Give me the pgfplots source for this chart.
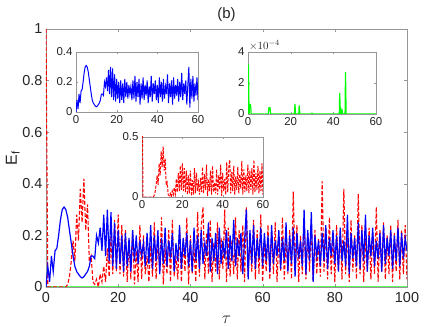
\documentclass[border=0pt]{standalone}
\usepackage{pgfplots}
\pgfplotsset{compat=1.18}
\usepackage{pgfplotstable}
\usepackage{fontspec}
\setmainfont{Liberation Sans}

\definecolor{axgray}{RGB}{150,150,150}
\definecolor{txtgray}{RGB}{38,38,38}
\definecolor{mblue}{RGB}{0,0,255}
\definecolor{mred}{RGB}{255,0,0}
\definecolor{mgreen}{RGB}{0,255,0}

% time, blue curve, red curve
\pgfplotstableread{
t b r
0 0.00 1.00
0.5 0.08 0.00
1 0.02 0.00
1.5 0.12 0.00
2 0.06 0.00
2.5 0.14 0.00
3 0.15 0.00
3.5 0.20 0.00
4 0.26 0.00
4.5 0.30 0.00
5 0.31 0.00
5.5 0.30 0.00
6 0.27 0.01
6.5 0.22 0.04
7 0.17 0.10
7.5 0.12 0.18
8 0.08 0.10
8.5 0.06 0.28
9 0.05 0.18
9.5 0.04 0.38
10 0.035 0.25
10.5 0.04 0.42
11 0.05 0.22
11.5 0.06 0.32
12 0.08 0.10
12.5 0.12 0.12
13 0.12 0.02
13.5 0.11 0.01
14 0.20 0.03
14.5 0.17 0.00
15 0.23 0.05
15.5 0.14 0.02
16 0.28 0.08
16.5 0.12 0.02
17 0.30 0.15
17.5 0.10 0.04
18 0.29 0.20
18.5 0.08 0.05
19 0.25 0.26
19.5 0.07 0.06
20 0.22 0.28
20.5 0.09 0.05
21 0.20 0.24
21.5 0.06 0.04
22 0.21 0.22
22.5 0.08 0.02
23 0.19 0.18
23.5 0.06 0.03
24 0.22 0.22
24.5 0.10 0.01
25 0.20 0.14
25.5 0.09 0.02
26 0.18 0.24
26.5 0.12 0.03
27 0.17 0.20
27.5 0.08 0.05
28 0.21 0.12
28.5 0.09 0.02
29 0.24 0.16
29.5 0.07 0.04
30 0.20 0.25
30.5 0.10 0.03
31 0.22 0.19
31.5 0.05 0.06
32 0.19 0.27
32.5 0.09 0.01
33 0.23 0.15
33.5 0.08 0.05
34 0.18 0.22
34.5 0.11 0.02
35 0.21 0.26
35.5 0.06 0.04
36 0.17 0.12
36.5 0.10 0.03
37 0.24 0.23
37.5 0.07 0.02
38 0.19 0.18
38.5 0.12 0.06
39 0.21 0.27
39.5 0.08 0.01
40 0.18 0.20
40.5 0.06 0.05
41 0.23 0.15
41.5 0.10 0.02
42 0.20 0.29
42.5 0.07 0.04
43 0.22 0.24
43.5 0.09 0.31
44 0.17 0.03
44.5 0.12 0.21
45 0.25 0.05
45.5 0.06 0.26
46 0.19 0.02
46.5 0.10 0.17
47 0.21 0.06
47.5 0.05 0.25
48 0.23 0.03
48.5 0.09 0.19
49 0.18 0.07
49.5 0.11 0.30
50 0.22 0.02
50.5 0.07 0.23
51 0.20 0.04
51.5 0.10 0.18
52 0.26 0.05
52.5 0.08 0.27
53 0.19 0.03
53.5 0.12 0.22
54 0.21 0.06
54.5 0.05 0.24
55 0.18 0.02
55.5 0.30 0.31
56 0.03 0.04
56.5 0.22 0.20
57 0.09 0.06
57.5 0.24 0.26
58 0.07 0.03
58.5 0.19 0.22
59 0.11 0.05
59.5 0.23 0.28
60 0.08 0.02
60.5 0.21 0.18
61 0.10 0.06
61.5 0.20 0.24
62 0.06 0.03
62.5 0.24 0.21
63 0.09 0.05
63.5 0.18 0.25
64 0.12 0.02
64.5 0.22 0.20
65 0.07 0.06
65.5 0.19 0.27
66 0.10 0.03
66.5 0.25 0.19
67 0.06 0.05
67.5 0.20 0.22
68 0.09 0.03
68.5 0.23 0.37
69 0.04 0.06
69.5 0.21 0.24
70 0.11 0.02
70.5 0.18 0.20
71 0.08 0.05
71.5 0.30 0.26
72 0.05 0.03
72.5 0.22 0.21
73 0.10 0.06
73.5 0.29 0.25
74 0.02 0.02
74.5 0.20 0.22
75 0.12 0.05
75.5 0.18 0.19
76 0.08 0.04
76.5 0.21 0.41
77 0.10 0.06
77.5 0.24 0.23
78 0.07 0.03
78.5 0.19 0.27
79 0.12 0.05
79.5 0.22 0.20
80 0.09 0.02
80.5 0.20 0.24
81 0.06 0.06
81.5 0.23 0.21
82 0.10 0.03
82.5 0.18 0.38
83 0.08 0.05
83.5 0.28 0.22
84 0.05 0.02
84.5 0.21 0.26
85 0.11 0.06
85.5 0.19 0.20
86 0.08 0.03
86.5 0.25 0.36
87 0.07 0.05
87.5 0.22 0.24
88 0.10 0.02
88.5 0.28 0.19
89 0.06 0.06
89.5 0.20 0.23
90 0.12 0.03
90.5 0.23 0.21
91 0.08 0.05
91.5 0.18 0.31
92 0.11 0.02
92.5 0.21 0.22
93 0.06 0.06
93.5 0.24 0.25
94 0.09 0.03
94.5 0.19 0.20
95 0.12 0.05
95.5 0.22 0.24
96 0.07 0.02
96.5 0.20 0.21
97 0.10 0.06
97.5 0.23 0.26
98 0.08 0.03
98.5 0.21 0.22
99 0.11 0.05
99.5 0.19 0.24
100 0.14 0.03
}\dyn

% green curve (tiny values)
\pgfplotstableread{
t g
0 0
0.2 3.2e-4
0.5 0
0.8 0.6e-4
1.2 0.6e-4
1.5 0
9.5 0
9.8 0.4e-4
10.3 0.4e-4
10.6 0
21.8 0
22 0.65e-4
22.3 0
23.8 0
24 0.55e-4
24.3 0
29.8 0
30 0.05e-4
30.3 0
42.8 0
43 1.35e-4
43.3 0
43.8 0
44 0.35e-4
44.3 0
45.5 0
45.7 2.7e-4
46 0
100 0
}\ent

\pgfplotsset{
  matlab/.style={
    scale only axis,
    axis line style={axgray},
    tick style={axgray},
    tick align=inside,
    ticklabel style={text=txtgray},
    /pgf/number format/assume math mode=true,
    axis background/.style={fill=white},
  },
  inset/.style={
    matlab,
    major tick length=2bp,
    ticklabel style={font=\fontsize{11.5}{12}\selectfont},
    xmin=0, xmax=60, xtick={0,20,40,60},
  },
}

\begin{document}
\begin{tikzpicture}
\useasboundingbox (-46bp,-40bp) rectangle (390bp,287bp);
\begin{axis}[
  matlab,
  at={(0,0)}, anchor=south west,
  width=361bp, height=258bp,
  xmin=0, xmax=100, ymin=0, ymax=1,
  xtick={0,20,40,60,80,100},
  ytick={0,0.2,0.4,0.6,0.8,1},
  major tick length=3bp,
  ticklabel style={font=\fontsize{14.5}{16}\selectfont},
  xticklabel style={yshift=-2bp},
  xlabel={$\tau$}, ylabel={E\textsubscript{f}},
  label style={font=\fontsize{16}{18}\selectfont, text=txtgray},
  xlabel style={yshift=-6bp},
  ylabel style={yshift=-4bp},
  title={(b)},
  title style={font=\fontsize{15}{17}\selectfont, text=txtgray, yshift=-2bp},
]
\addplot[mgreen, line width=1.2pt] table[x=t, y=g] {\ent};
\addplot[mred, line width=1.1pt, dash pattern=on 4pt off 2pt] table[x=t, y=r] {\dyn};
\addplot[mblue, line width=1.2pt] table[x=t, y=b] {\dyn};
\end{axis}

% blue inset
\begin{axis}[
  inset,
  at={(30bp,175bp)}, anchor=south west,
  width=122bp, height=60bp,
  ymin=0, ymax=0.4, ytick={0,0.2,0.4},
]
\addplot[mblue, line width=1pt] table[x=t, y=b] {\dyn};
\end{axis}

% green inset
\begin{axis}[
  inset,
  at={(202bp,173bp)}, anchor=south west,
  width=128bp, height=62bp,
  ymin=0, ymax=4e-4, ytick={0,2e-4,4e-4},
  scaled y ticks=base 10:4,
  ytick scale label code/.code={$\times10^{#1}$},
  every y tick scale label/.style={at={(rel axis cs:0,1)}, anchor=south west,
    inner sep=1pt, font=\fontsize{11}{12}\selectfont, text=txtgray},
]
\addplot[mgreen, line width=1.2pt] table[x=t, y=g] {\ent};
\end{axis}

% red inset
\begin{axis}[
  inset,
  at={(96bp,90bp)}, anchor=south west,
  width=121bp, height=60bp,
  ymin=0, ymax=0.5, ytick={0,0.5},
]
\addplot[mred, line width=1pt, dash pattern=on 3pt off 1.5pt] table[x=t, y=r] {\dyn};
\end{axis}
\end{tikzpicture}
\end{document}
